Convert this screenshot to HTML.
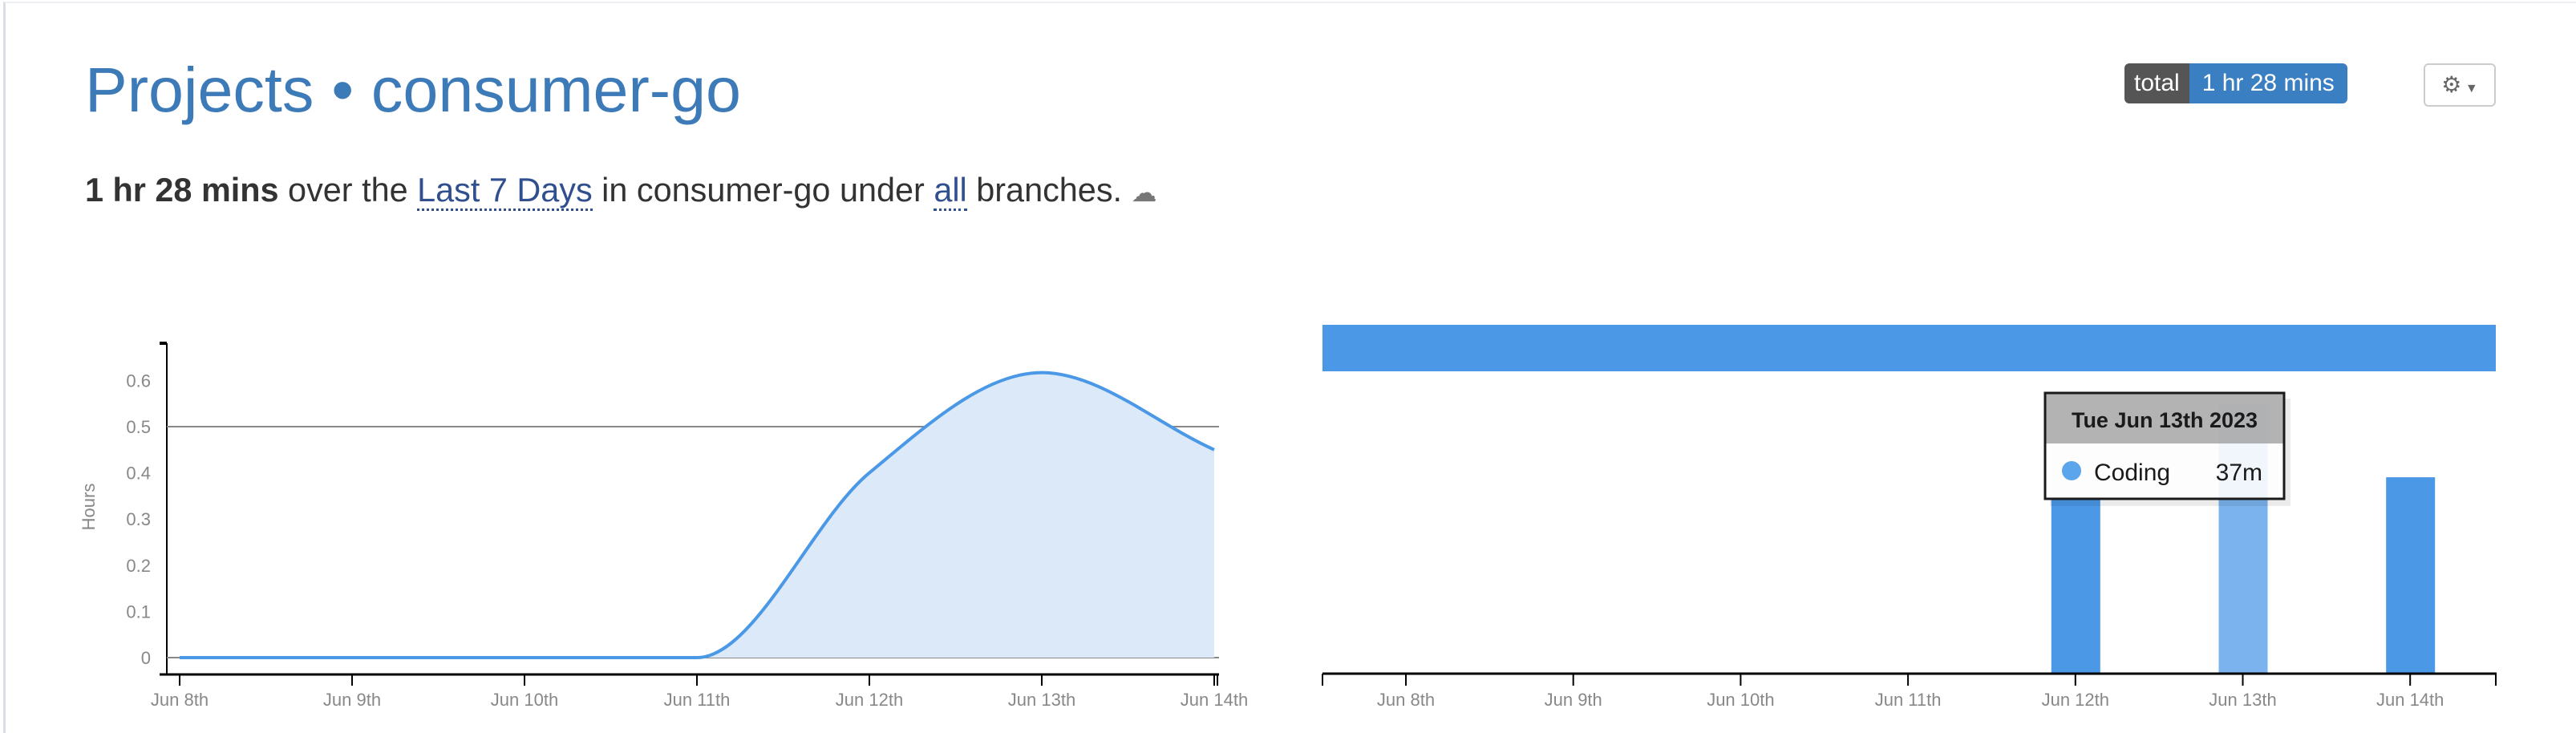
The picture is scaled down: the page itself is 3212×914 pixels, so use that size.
<!DOCTYPE html>
<html><head><meta charset="utf-8"><style>
html,body{margin:0;padding:0;background:#fff;width:3212px;height:902px;overflow:hidden;font-family:"Liberation Sans",sans-serif}
#frame{position:absolute;left:4px;top:2px;width:3220px;height:910px;border-left:3px solid #d8dee8;border-top:2px solid #eef0f3}
#title{position:absolute;left:106px;top:66px;font-size:79px;color:#3d7ab8;white-space:nowrap}
#sub{position:absolute;left:106px;top:214px;font-size:41.4px;color:#333;white-space:nowrap}
#sub a{color:#2f4f8f;text-decoration:none;border-bottom:3px dotted #2f4f8f}
#badge{position:absolute;left:2649px;top:79px;height:50px;display:flex;font-size:30px;color:#fff;border-radius:6px;overflow:hidden}
#badge .l{background:#555;padding:0 12px;line-height:50px}
#badge .r{background:#3a7fc1;padding:0 16px;line-height:50px}
#gear{position:absolute;left:3022px;top:79px;width:90px;height:54px;border:2px solid #ccc;border-radius:6px;box-sizing:border-box;color:#666;font-size:28px;line-height:50px;text-align:center}
svg{position:absolute;left:0;top:0}
</style></head><body>
<div id="frame"></div>
<div id="title">Projects • consumer-go</div>
<div id="sub"><b>1 hr 28 mins</b> over the <a>Last 7 Days</a> in consumer-go under <a>all</a> branches. <span style="color:#777;font-size:32px">☁</span></div>
<div id="badge"><span class="l">total</span><span class="r">1 hr 28 mins</span></div>
<div id="gear">⚙<span style="font-size:16px"> ▼</span></div>
<svg id="chart" width="3212" height="902" xmlns="http://www.w3.org/2000/svg"></svg>
<script>
const categories=["Jun 8th","Jun 9th","Jun 10th","Jun 11th","Jun 12th","Jun 13th","Jun 14th"];
const hours=[0,0,0,0,0.4,0.617,0.45];
const minutes=[0,0,0,0,24,37,27];
const yTicks=[0,0.1,0.2,0.3,0.4,0.5,0.6];
const NS="http://www.w3.org/2000/svg";
const svg=document.getElementById('chart');
function mk(t,a,p){const e=document.createElementNS(NS,t);for(const k in a)e.setAttribute(k,a[k]);(p||svg).appendChild(e);return e;}
const lx=i=>224+i*215;
const ly=v=>820-v*576;
const AX=208, RE=1520;
mk('line',{x1:AX,y1:428,x2:AX,y2:842,stroke:'#000','stroke-width':2});
mk('line',{x1:AX-9,y1:428,x2:AX,y2:428,stroke:'#000','stroke-width':4});
mk('line',{x1:AX-9,y1:841,x2:RE,y2:841,stroke:'#000','stroke-width':3});
mk('line',{x1:AX,y1:ly(0.5),x2:RE,y2:ly(0.5),stroke:'#888','stroke-width':2});
mk('line',{x1:AX,y1:ly(0),x2:RE,y2:ly(0),stroke:'#888','stroke-width':2});
const yt=mk('text',{x:118,y:632,'font-size':22,fill:'#888','text-anchor':'middle',transform:'rotate(-90 118 632)'});yt.textContent='Hours';


yTicks.forEach(v=>{const t=mk('text',{x:188,y:ly(v)+8,'font-size':22,fill:'#888','text-anchor':'end'});t.textContent=v;

});
categories.forEach((c,i)=>{mk('line',{x1:lx(i),y1:841,x2:lx(i),y2:855,stroke:'#000','stroke-width':2});
const t=mk('text',{x:lx(i),y:880,'font-size':22,fill:'#888','text-anchor':'middle'});t.textContent=c;

});
mk('line',{x1:RE-2,y1:841,x2:RE-2,y2:855,stroke:'#000','stroke-width':2});
const n=hours.length,xs=hours.map((v,i)=>lx(i)),ys=hours.map(v=>ly(v));
const d=[],m=[];for(let i=0;i<n-1;i++)d.push((ys[i+1]-ys[i])/(xs[i+1]-xs[i]));
m[0]=d[0];m[n-1]=d[n-2];
for(let i=1;i<n-1;i++){m[i]=(d[i-1]*d[i]<=0)?0:(d[i-1]+d[i])/2;}
for(let i=0;i<n-1;i++){if(d[i]===0){m[i]=0;m[i+1]=0;continue;}const a=m[i]/d[i],b=m[i+1]/d[i],s=a*a+b*b;if(s>9){const t=3/Math.sqrt(s);m[i]=t*a*d[i];m[i+1]=t*b*d[i];}}
let p=`M${xs[0]},${ys[0]}`;
for(let i=0;i<n-1;i++){const h=(xs[i+1]-xs[i])/3;p+=` C${xs[i]+h},${ys[i]+m[i]*h} ${xs[i+1]-h},${ys[i+1]-m[i+1]*h} ${xs[i+1]},${ys[i+1]}`;}
const area=mk('path',{d:p+` L${xs[n-1]},${ly(0)} L${xs[0]},${ly(0)} Z`,fill:'#dbe9f9'});


const line=mk('path',{d:p,fill:'none',stroke:'#4a98e6','stroke-width':4});


const rx=i=>1753+i*208.7;
const ry=v=>840-v*9.07;
const totalBar=mk('rect',{x:1649,y:405,width:1463,height:58,fill:'#4a98e6'});


minutes.forEach((v,i)=>{if(!v)return;const b=mk('rect',{x:rx(i)-30,y:ry(v),width:61,height:840-ry(v),fill:i===5?'#7ab3ee':'#4a98e6'});

});
mk('line',{x1:1649,y1:840,x2:3113,y2:840,stroke:'#000','stroke-width':3});
[1649,3112].forEach(x=>mk('line',{x1:x,y1:840,x2:x,y2:855,stroke:'#000','stroke-width':2}));
categories.forEach((c,i)=>{mk('line',{x1:rx(i),y1:840,x2:rx(i),y2:855,stroke:'#000','stroke-width':2});
const t=mk('text',{x:rx(i),y:880,'font-size':22,fill:'#888','text-anchor':'middle'});t.textContent=c;

});
const g=mk('g',{});


mk('rect',{x:2556,y:497,width:300,height:134,fill:'rgba(0,0,0,0.08)'},g);
mk('rect',{x:2550,y:490,width:298,height:132,fill:'rgba(255,255,255,0.9)'},g);
mk('rect',{x:2550,y:490,width:298,height:63,fill:'rgba(160,160,160,0.8)'},g);
mk('rect',{x:2550,y:490,width:298,height:132,fill:'none',stroke:'#1a1a1a','stroke-width':3},g);
const hh=mk('text',{x:2699,y:533,'font-size':27,'font-weight':'bold',fill:'#1a1a1a','text-anchor':'middle'},g);hh.textContent='Tue Jun 13th 2023';
mk('circle',{cx:2583,cy:587,r:12,fill:'#5ba5ec'},g);
const c1=mk('text',{x:2611,y:599,'font-size':30,fill:'#1a1a1a'},g);c1.textContent='Coding';
const c2=mk('text',{x:2821,y:599,'font-size':30,fill:'#1a1a1a','text-anchor':'end'},g);c2.textContent='37m';
</script>
</body></html>
